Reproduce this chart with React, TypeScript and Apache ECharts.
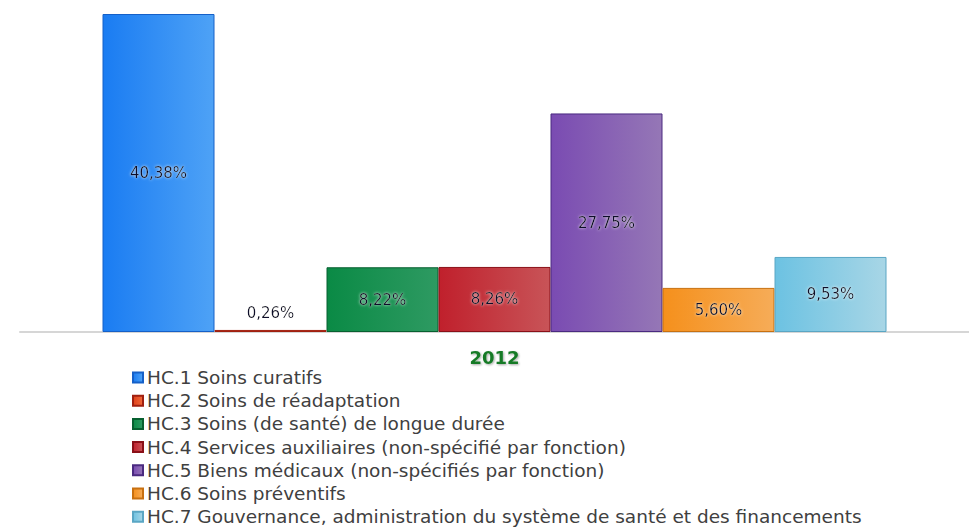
import React, { useEffect, useRef } from "react";
import * as echarts from "echarts";

const categories = ["2012"];
const seriesNames = [
  "HC.1 Soins curatifs",
  "HC.2 Soins de réadaptation",
  "HC.3 Soins (de santé) de longue durée",
  "HC.4 Services auxiliaires (non-spécifié par fonction)",
  "HC.5 Biens médicaux (non-spécifiés par fonction)",
  "HC.6 Soins préventifs",
  "HC.7 Gouvernance, administration du système de santé et des financements",
];
const seriesValues = [40.38, 0.26, 8.22, 8.26, 27.75, 5.6, 9.53];
const colorStops: [string, string, string][] = [
  ["#1a7cf2", "#4ea2f6", "#1560c8"],
  ["#e0401a", "#f06a3a", "#a02010"],
  ["#0a8a45", "#2e9a62", "#076030"],
  ["#c0202c", "#c85458", "#8a1018"],
  ["#7a4bb2", "#9577b6", "#4a2a80"],
  ["#f5901c", "#f6ac58", "#c87010"],
  ["#6cc2e2", "#a8d6e6", "#5aa6c4"],
];

export default function App() {
  const ref = useRef<HTMLDivElement>(null);
  useEffect(() => {
    if (!ref.current) return;
    const chart = echarts.init(ref.current, undefined, { renderer: "svg" });
    const series = seriesNames.map((name, i) => ({
      name,
      type: "bar",
      barWidth: 112,
      barGap: "0%",
      data: [seriesValues[i]],
      itemStyle: {
        color: new echarts.graphic.LinearGradient(0, 0, 1, 0, [
          { offset: 0, color: colorStops[i][0] },
          { offset: 1, color: colorStops[i][1] },
        ]),
        borderColor: colorStops[i][2],
        borderWidth: 1,
      },
      label: {
        show: true,
        position: seriesValues[i] < 2 ? "top" : "inside",
        distance: 9,
        formatter: (p: any) => p.value.toFixed(2).replace(".", ",") + "%",
        fontFamily: "DejaVu Sans",
        fontSize: 15,
        color: "#0c0c2a",
        textShadowColor: "rgba(255,255,255,0.85)",
        textShadowBlur: 3,
      },
    }));
    chart.setOption({
      animation: false,
      grid: { left: 20, right: 0, top: 14, bottom: 195 },
      xAxis: {
        type: "category",
        data: categories,
        axisLine: { lineStyle: { color: "#d6d6d6", width: 2 } },
        axisTick: { show: false },
        axisLabel: {
          margin: 16,
          fontFamily: "DejaVu Sans",
          fontWeight: "bold",
          fontSize: 18,
          color: "#157a25",
          textShadowColor: "rgba(0,0,0,0.35)",
          textShadowBlur: 2,
          textShadowOffsetX: 1,
          textShadowOffsetY: 1,
        },
      },
      yAxis: {
        type: "value",
        min: 0,
        max: 40.38,
        show: false,
        splitLine: { show: false },
      },
      legend: {
        orient: "vertical",
        left: 132,
        top: 368,
        height: 180,
        padding: 0,
        itemWidth: 10,
        itemHeight: 10,
        itemGap: 4.2,
        icon: "rect",
        data: seriesNames,
        textStyle: {
          fontFamily: "DejaVu Sans",
          fontSize: 18.5,
          lineHeight: 18,
          color: "#404040",
          padding: [0, 0, 0, -1],
        },
      },
      series,
    });
    return () => chart.dispose();
  }, []);
  return <div ref={ref} style={{ width: 969, height: 527, position: "absolute", left: 0, top: 0 }} />;
}
